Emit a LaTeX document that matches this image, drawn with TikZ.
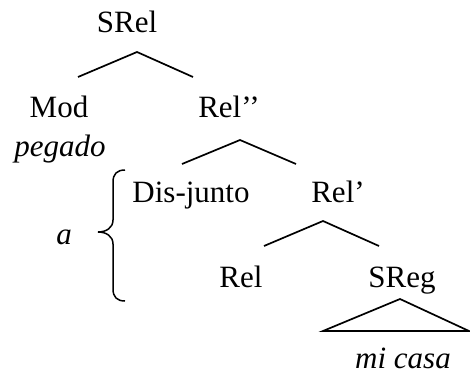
\documentclass[tikz,border=0pt]{standalone}
\usepackage{fontspec}
\setmainfont{Liberation Serif}
\begin{document}
\begin{tikzpicture}[x=1pt,y=-1pt,
  lbl/.style={anchor=base,inner sep=0pt,font=\fontsize{31}{37}\selectfont},
  ilbl/.style={lbl,font=\fontsize{31}{37}\selectfont\itshape},
  branch/.style={line width=1.7pt,line join=miter},
  bracestyle/.style={line width=1.5pt}]
\useasboundingbox (0,0) rectangle (470,374);
% labels
\node[lbl] (srel) at (127,33) {SRel};
\node[lbl] (mod) at (59,118) {Mod};
\node[lbl] (relpp) at (229,118) {Rel’’};
\node[ilbl] (pegado) at (60,157) {pegado};
\node[lbl] (disjunto) at (191,202) {Dis-junto};
\node[lbl] (relp) at (338,202) {Rel’};
\node[ilbl] (a) at (64,244) {a};
\node[lbl] (rel) at (241,287) {Rel};
\node[lbl] (sreg) at (402,287) {SReg};
\node[ilbl] (micasa) at (403,368) {mi casa};
% branch points
\coordinate (srelA) at (137,52);
\coordinate (srelL) at (78,77);
\coordinate (srelR) at (193,77);
\coordinate (relppA) at (240,140);
\coordinate (relppL) at (182,164);
\coordinate (relppR) at (296,164);
\coordinate (relpA) at (323,221);
\coordinate (relpL) at (264,246);
\coordinate (relpR) at (379,246);
\coordinate (sregA) at (400,299);
\coordinate (sregL) at (323,331);
\coordinate (sregR) at (469,331);
\draw[branch] (srelL) -- (srelA) -- (srelR);
\draw[branch] (relppL) -- (relppA) -- (relppR);
\draw[branch] (relpL) -- (relpA) -- (relpR);
\draw[branch] (sregL) -- (sregA) -- (sregR) -- cycle;
% brace
\coordinate (braceTop) at (125,170);
\coordinate (braceTip) at (98,232);
\coordinate (braceBot) at (125,301);
\draw[bracestyle] (braceTop) .. controls (117,170) and (113,174) .. (113,182)
  -- (113,220) .. controls (113,228) and (106,232) .. (braceTip)
  .. controls (106,232) and (113,236) .. (113,244)
  -- (113,289) .. controls (113,297) and (117,301) .. (braceBot);
\end{tikzpicture}
\end{document}
